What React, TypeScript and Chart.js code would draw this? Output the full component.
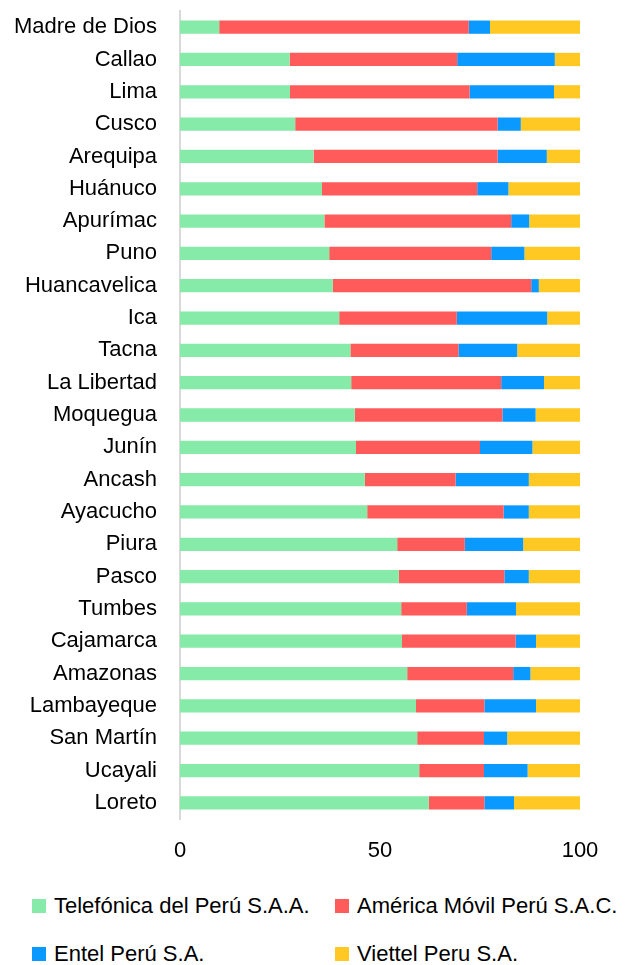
import React, { useEffect, useRef } from "react";
import { Chart, registerables } from "chart.js";

Chart.register(...registerables);

const regions = [
  "Madre de Dios", "Callao", "Lima", "Cusco", "Arequipa", "Huánuco", "Apurímac", "Puno",
  "Huancavelica", "Ica", "Tacna", "La Libertad", "Moquegua", "Junín", "Ancash", "Ayacucho",
  "Piura", "Pasco", "Tumbes", "Cajamarca", "Amazonas", "Lambayeque", "San Martín", "Ucayali", "Loreto",
];

const telefonica = [9.8, 27.4, 27.5, 28.8, 33.4, 35.5, 36.1, 37.3, 38.2, 39.8, 42.6, 42.8, 43.7, 44.0, 46.2, 46.8, 54.3, 54.7, 55.3, 55.5, 56.8, 59.0, 59.3, 59.8, 62.2];
const americaMovil = [62.4, 41.9, 44.9, 50.6, 46.0, 38.8, 46.7, 40.5, 49.6, 29.4, 27.0, 37.5, 36.9, 31.0, 22.7, 34.1, 16.9, 26.4, 16.4, 28.4, 26.5, 17.1, 16.7, 16.2, 13.9];
const entel = [5.3, 24.4, 21.1, 5.8, 12.3, 7.8, 4.5, 8.3, 1.9, 22.6, 14.7, 10.7, 8.3, 13.1, 18.3, 6.3, 14.6, 6.1, 12.3, 5.1, 4.3, 12.9, 5.8, 10.9, 7.4];
const viettel = [22.5, 6.3, 6.5, 14.8, 8.3, 17.9, 12.7, 13.9, 10.3, 8.2, 15.7, 9.0, 11.1, 11.9, 12.8, 12.8, 14.2, 12.8, 16.0, 11.0, 12.4, 11.0, 18.2, 13.1, 16.5];

const seriesNames = ["Telefónica del Perú S.A.A.", "América Móvil Perú S.A.C.", "Entel Perú S.A.", "Viettel Peru S.A."];
const seriesColors = ["#86EAA9", "#FF5B5B", "#0A99FF", "#FFC822"];
const xTicks = [0, 50, 100];

const FONT = "'Liberation Sans', Arial, sans-serif";

export default function App() {
  const ref = useRef<HTMLCanvasElement | null>(null);

  useEffect(() => {
    if (!ref.current) return;
    const values = [telefonica, americaMovil, entel, viettel];
    const chart = new Chart(ref.current, {
      type: "bar",
      data: {
        labels: regions,
        datasets: values.map((v, i) => ({
          label: seriesNames[i],
          data: v,
          backgroundColor: seriesColors[i],
          borderWidth: 0,
          barPercentage: 0.41,
          categoryPercentage: 1,
        })),
      },
      options: {
        indexAxis: "y",
        responsive: false,
        animation: false,
        devicePixelRatio: 1,
        layout: { padding: { top: 11, right: 48, bottom: 0, left: 0 } },
        plugins: {
          legend: { display: false },
          tooltip: { enabled: false },
        },
        scales: {
          x: {
            stacked: true,
            min: 0,
            max: 100,
            afterBuildTicks: (scale: any) => {
              scale.ticks = xTicks.map((v) => ({ value: v }));
            },
            afterFit: (scale: any) => {
              scale.height = 61;
              scale.paddingLeft = 0;
              scale.paddingRight = 0;
            },
            grid: { display: false, drawTicks: false },
            border: { display: false },
            ticks: {
              padding: 19,
              color: "#000",
              font: { family: FONT, size: 22 },
              maxRotation: 0,
            },
          },
          y: {
            stacked: true,
            afterFit: (scale: any) => {
              scale.width = 180;
              scale.paddingTop = 0;
              scale.paddingBottom = 0;
            },
            grid: { display: false, drawTicks: false },
            border: { display: true, color: "#d9d9d9", width: 2 },
            ticks: {
              padding: 23,
              color: "#000",
              autoSkip: false,
              font: { family: FONT, size: 22 },
            },
          },
        },
      },
    });
    return () => chart.destroy();
  }, []);

  const legendItem = (i: number, left: number, top: number) => (
    <div
      key={i}
      style={{
        position: "absolute",
        left,
        top,
        height: 26,
        display: "flex",
        alignItems: "center",
        fontFamily: FONT,
        fontSize: 22,
        color: "#000",
        whiteSpace: "nowrap",
      }}
    >
      <span
        style={{
          display: "inline-block",
          width: 14,
          height: 14,
          background: seriesColors[i],
          marginRight: 8,
        }}
      />
      <span>{seriesNames[i]}</span>
    </div>
  );

  return (
    <div style={{ position: "absolute", left: 0, top: 0, width: 628, height: 965, background: "#fff" }}>
      <canvas ref={ref} width={628} height={880} style={{ display: "block" }} />
      {legendItem(0, 32, 893)}
      {legendItem(1, 335, 893)}
      {legendItem(2, 32, 941)}
      {legendItem(3, 335, 941)}
    </div>
  );
}
